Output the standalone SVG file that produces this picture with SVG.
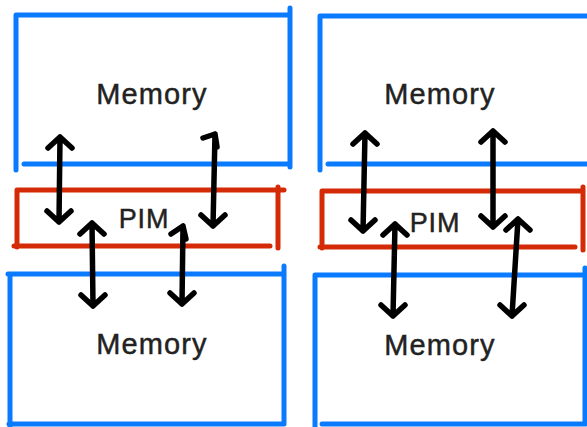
<svg xmlns="http://www.w3.org/2000/svg" width="587" height="427" viewBox="0 0 587 427">
  <style>
    .mem { fill: none; stroke: #0a7bff; stroke-width: 5; stroke-linecap: round; }
    .pim { fill: none; stroke: #d42a06; stroke-width: 5; stroke-linecap: round; }
    .lbl { font-family: "Liberation Sans", Arial, sans-serif; fill: #222; stroke: #222; stroke-width: 0.45; text-anchor: middle; }
    .lbl-mem { font-size: 29px; letter-spacing: 1.1px; }
    .lbl-pim { font-size: 27px; letter-spacing: 0.8px; }
    .arr { fill: none; stroke: #000; stroke-width: 5.5; stroke-linecap: round; stroke-linejoin: round; }
  </style>
  <rect width="587" height="427" fill="#fff"/>

  <!-- left stack -->
  <g id="memory-top-left">
    <path class="mem" d="M16 15 H289 M290 8 V167 M16 15 V170 M24 164 H290"/>
    <text class="lbl lbl-mem" x="152" y="104">Memory</text>
  </g>
  <g id="pim-left">
    <path class="pim" d="M17 190 H284 M278 187 V248 M17 190 V247 M14 246 H270"/>
    <text class="lbl lbl-pim" x="144" y="228">PIM</text>
  </g>
  <g id="memory-bottom-left">
    <path class="mem" d="M8 274 H283 M284 266 V424 M10 274 V427 M9 424 H283"/>
    <text class="lbl lbl-mem" x="152" y="354">Memory</text>
  </g>

  <!-- right stack -->
  <g id="memory-top-right">
    <path class="mem" d="M320 16 H590 M320 16 V170 M328 164 H590"/>
    <text class="lbl lbl-mem" x="440" y="104">Memory</text>
  </g>
  <g id="pim-right">
    <path class="pim" d="M322 191 H583 M583 187 V250 M322 191 V248 M320 247 H575"/>
    <text class="lbl lbl-pim" x="435" y="232">PIM</text>
  </g>
  <g id="memory-bottom-right">
    <path class="mem" d="M315 275 H585 M585 268 V424 M315 276 V427 M322 424 H586"/>
    <text class="lbl lbl-mem" x="440" y="355">Memory</text>
  </g>

  <!-- double-headed links between PIM and memories -->
  <g id="connectors">
    <!-- left stack -->
    <path class="arr" d="M60 137 L59 222 M48 148 L60 137 L72 148 M47 211 L59 222 L71 211"/>
    <path class="arr" d="M215 134 L213 226 M203 138 L215 134 L217 147 M201 215 L213 226 L225 215"/>
    <path class="arr" d="M92 223 L93 306 M80 234 L92 223 L104 234 M81 295 L93 306 L105 295"/>
    <path class="arr" d="M183 226 L182 304 M171 234 L183 226 L186 239 M170 293 L182 304 L194 293"/>
    <!-- right stack -->
    <path class="arr" d="M365 133 L363 231 M353 144 L365 133 L377 144 M351 220 L363 231 L375 220"/>
    <path class="arr" d="M493 131 L493 227 M481 142 L493 131 L505 142 M481 216 L493 227 L505 216"/>
    <path class="arr" d="M395 224 L393 316 M383 235 L395 224 L407 235 M381 305 L393 316 L405 305"/>
    <path class="arr" d="M518 219 L512 316 M506 230 L518 219 L530 230 M500 305 L512 316 L524 305"/>
  </g>
</svg>
